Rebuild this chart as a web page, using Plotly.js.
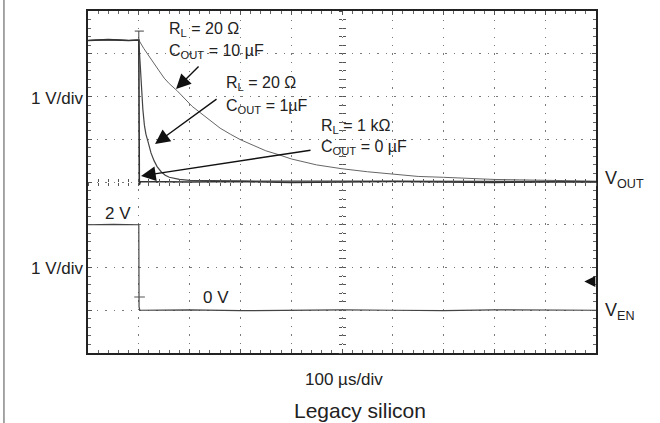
<!DOCTYPE html>
<html>
<head>
<meta charset="utf-8">
<script src="https://cdn.plot.ly/plotly-3.0.1.min.js"></script>
<style>
  html, body { margin: 0; padding: 0; background: #fff; }
  #chart { width: 660px; height: 423px; }
</style>
</head>
<body>
<div id="chart"></div>
<script>
// ---- Data (time in µs relative to EN falling edge, voltages in V) ----
const timeUs_10uF = [-100, -60, -20, 0, 10, 20, 30, 40, 50, 60, 75, 90, 105, 120, 140, 160, 180, 200, 225, 250, 275, 300, 350, 400, 450, 500, 550, 600, 650, 700, 750, 800, 850, 900];
const vout_10uF   = [3.31, 3.33, 3.31, 3.32, 3.12, 2.94, 2.75, 2.60, 2.43, 2.30, 2.14, 1.95, 1.77, 1.63, 1.45, 1.26, 1.12, 0.99, 0.86, 0.73, 0.64, 0.54, 0.40, 0.31, 0.24, 0.18, 0.13, 0.11, 0.08, 0.06, 0.05, 0.04, 0.03, 0.02];

const timeUs_1uF = [-100, -60, -20, 0, 2, 4, 6, 8, 11, 14, 18, 24, 30, 36, 44, 52, 60, 70, 80, 100, 150, 250, 400, 600, 900];
const vout_1uF   = [3.31, 3.33, 3.31, 3.32, 2.90, 2.45, 2.05, 1.70, 1.33, 1.12, 0.95, 0.68, 0.50, 0.36, 0.24, 0.16, 0.11, 0.08, 0.06, 0.04, 0.03, 0.02, 0.02, 0.01, 0.01];

const timeUs_1k = [-100, -60, -20, 0, 1, 3, 100, 200, 300, 400, 500, 600, 700, 800, 900];
const vout_1k   = [3.31, 3.33, 3.31, 3.32, -0.07, 0.01, 0.00, 0.01, -0.01, 0.00, 0.01, 0.00, -0.01, 0.00, 0.00];

const timeUs_en = [-100, -50, 0, 0.5, 2, 100, 200, 300, 400, 500, 600, 700, 800, 900];
const ven       = [2.00, 2.01, 2.00, 0.08, 0.00, 0.01, -0.01, 0.00, 0.01, 0.00, -0.01, 0.01, 0.00, 0.00];

// ---- Layout helpers (pixel -> paper) ----
const L = 88, R = 595.7, T = 11, B = 353;
const px = x => (x - L) / (R - L);
const py = y => (B - y) / (B - T);
const FONT = 'Liberation Sans, Arial, sans-serif';
const TXT = '#222';

const traces = [
  { x: timeUs_10uF, y: vout_10uF, type: 'scatter', mode: 'lines', line: { color: '#666', width: 1 }, xaxis: 'x', yaxis: 'y', hoverinfo: 'skip' },
  { x: timeUs_1uF, y: vout_1uF, type: 'scatter', mode: 'lines', line: { color: '#444', width: 1.2 }, xaxis: 'x', yaxis: 'y', hoverinfo: 'skip' },
  { x: timeUs_1k, y: vout_1k, type: 'scatter', mode: 'lines', line: { color: '#333', width: 1.6 }, xaxis: 'x', yaxis: 'y', hoverinfo: 'skip' },
  { x: timeUs_en, y: ven, type: 'scatter', mode: 'lines', line: { color: '#444', width: 1.2 }, xaxis: 'x', yaxis: 'y2', hoverinfo: 'skip' },
  // dummy traces so that the centre cross-hair axes are drawn
  { x: [null], y: [null], xaxis: 'x2', yaxis: 'y', type: 'scatter', hoverinfo: 'skip' },
  { x: [null], y: [null], xaxis: 'x3', yaxis: 'y', type: 'scatter', hoverinfo: 'skip' },
  { x: [null], y: [null], xaxis: 'x', yaxis: 'y3', type: 'scatter', hoverinfo: 'skip' },
  { x: [null], y: [null], xaxis: 'x', yaxis: 'y4', type: 'scatter', hoverinfo: 'skip' }
];

const XR = [-100, 900];
const YR = [-4, 4];

const centreX = (ticks) => ({
  overlaying: 'x', anchor: 'free', position: 0.5, range: XR, showgrid: false, zeroline: false,
  showline: false, showticklabels: false, ticks: ticks, ticklen: 3, tickwidth: 1, tickcolor: '#555',
  tick0: -100, dtick: 20, fixedrange: true
});
const centreY = (ticks) => ({
  overlaying: 'y', anchor: 'free', position: 0.5, range: YR, showgrid: false, zeroline: false,
  showline: false, showticklabels: false, ticks: ticks, ticklen: 3, tickwidth: 1, tickcolor: '#555',
  tick0: -4, dtick: 0.2, fixedrange: true
});

const ann = [];
const txt = (text, x, y, xanchor, size) => ann.push({
  text: text, xref: 'paper', yref: 'paper', x: px(x), y: py(y), xanchor: xanchor, yanchor: 'middle',
  showarrow: false, font: { family: FONT, size: size, color: TXT }
});
txt('1 V/div', 85, 98, 'right', 17);
txt('1 V/div', 85, 268, 'right', 17);
txt('2 V', 118, 213, 'center', 17);
txt('0 V', 216, 297, 'center', 17);
txt('V<sub>OUT</sub>', 603, 180, 'left', 18);
txt('V<sub>EN</sub>', 603, 311, 'left', 18);
txt('100 \u00b5s/div', 344, 379, 'center', 17);
txt('Legacy silicon', 360, 410, 'center', 21);
txt('R<sub>L</sub> = 20 \u03a9', 167, 29, 'left', 16);
txt('C<sub>OUT</sub> = 10 \u00b5F', 167, 51, 'left', 16);
txt('R<sub>L</sub> = 20 \u03a9', 224, 84, 'left', 16);
txt('C<sub>OUT</sub> = 1\u00b5F', 224, 106, 'left', 16);
txt('R<sub>L</sub> = 1 k\u03a9', 319, 126, 'left', 16);
txt('C<sub>OUT</sub> = 0 \u00b5F', 319, 148, 'left', 16);

const arrow = (hx, hy, tx, ty, size, w) => ann.push({
  text: '', xref: 'paper', yref: 'paper', x: px(hx), y: py(hy), ax: tx - hx, ay: ty - hy,
  showarrow: true, arrowhead: 2, arrowsize: size, arrowwidth: w, arrowcolor: '#111'
});
arrow(176, 89, 200, 65, 2.1, 1.4);
arrow(155, 144, 218, 98, 2.1, 1.4);
arrow(141, 176, 312, 150, 2.1, 1.4);
arrow(584, 281.5, 596, 281.5, 1.7, 1.3);

const shapes = [
  // figure left border
  { type: 'line', xref: 'paper', yref: 'paper', x0: px(4), x1: px(4), y0: py(0), y1: py(423), line: { color: '#888', width: 1.5 } },
  // trigger marker "T"
  { type: 'line', xref: 'x', yref: 'y', x0: -8, x1: 10, y0: 3.53, y1: 3.53, line: { color: '#444', width: 1 } },
  { type: 'line', xref: 'x', yref: 'y', x0: 0, x1: 0, y0: 3.32, y1: 3.53, line: { color: '#444', width: 1 } },
  // EN reference tick
  { type: 'line', xref: 'x', yref: 'y2', x0: -9, x1: 12, y0: 0.31, y1: 0.31, line: { color: '#555', width: 1 } }
];

const layout = {
  width: 660, height: 423,
  margin: { l: L, r: 660 - R, t: T, b: 423 - B, pad: 0 },
  paper_bgcolor: '#fff', plot_bgcolor: '#fff',
  showlegend: false,
  font: { family: FONT, color: TXT },
  xaxis: {
    range: XR, tick0: -100, dtick: 100, showgrid: true, gridcolor: '#7a7a7a', gridwidth: 1, griddash: '1.5px,7px',
    zeroline: false, showline: true, linecolor: '#222', linewidth: 2, mirror: 'ticks',
    ticks: 'inside', ticklen: 4, tickcolor: '#555', showticklabels: false, fixedrange: true,
    minor: { dtick: 20, tick0: -100, ticks: 'inside', ticklen: 3, tickcolor: '#666', showgrid: false }
  },
  yaxis: {
    range: YR, tick0: -4, dtick: 1, showgrid: true, gridcolor: '#7a7a7a', gridwidth: 1, griddash: '1.5px,7px',
    zeroline: false, showline: true, linecolor: '#222', linewidth: 2, mirror: 'ticks',
    ticks: 'inside', ticklen: 4, tickcolor: '#555', showticklabels: false, fixedrange: true,
    minor: { dtick: 0.2, tick0: -4, ticks: 'inside', ticklen: 3, tickcolor: '#666', showgrid: false }
  },
  yaxis2: { overlaying: 'y', range: [-1, 7], visible: false, fixedrange: true },
  xaxis2: centreX('inside'),
  xaxis3: centreX('outside'),
  yaxis3: centreY('inside'),
  yaxis4: centreY('outside'),
  annotations: ann,
  shapes: shapes
};

Plotly.newPlot('chart', traces, layout, { staticPlot: true, displayModeBar: false });
</script>
</body>
</html>
